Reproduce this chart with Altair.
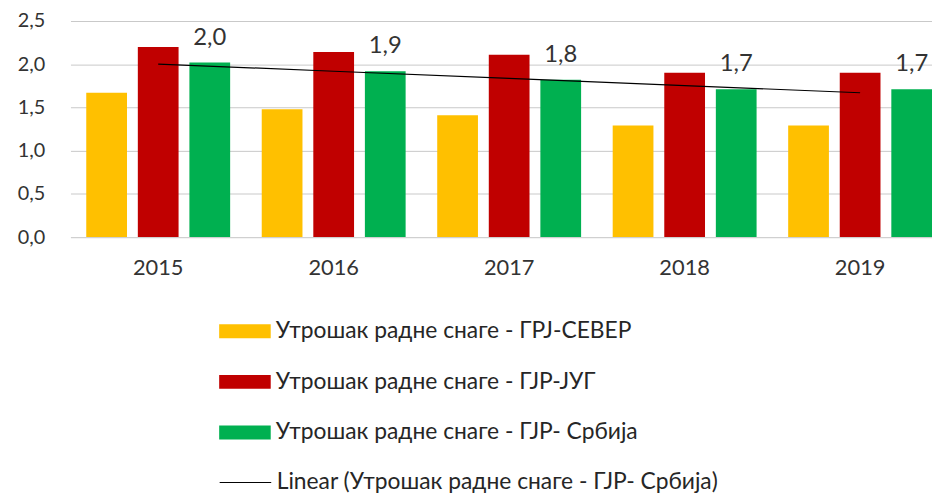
import altair as alt
import pandas as pd
import numpy as np

years = ["2015", "2016", "2017", "2018", "2019"]
sever = [1.67, 1.48, 1.41, 1.29, 1.29]
jug = [2.20, 2.14, 2.11, 1.90, 1.90]
srbija = [2.02, 1.92, 1.82, 1.71, 1.71]
series = [
    "Утрошак радне снаге - ГРЈ-СЕВЕР",
    "Утрошак радне снаге - ГЈР-ЈУГ",
    "Утрошак радне снаге - ГЈР- Србија",
]
trend_name = "Linear (Утрошак радне снаге - ГЈР- Србија)"
colors = ["#FFC000", "#C00000", "#00B050"]
y_ticks = [0, 0.5, 1.0, 1.5, 2.0, 2.5]

FONT = "Lato"
TXT = "#333333"

rows = []
for s, vals in zip(series, [sever, jug, srbija]):
    for yr, v in zip(years, vals):
        rows.append({"year": yr, "series": s, "value": v})
df = pd.DataFrame(rows)

lab = pd.DataFrame({"year": years, "series": series[2], "value": srbija})
lab["label"] = [f"{v:.1f}".replace(".", ",") for v in srbija]

idx = np.arange(len(years))
coef = np.polyfit(idx, np.array(srbija), 1)
trend = pd.DataFrame({"year": years, "trend": np.polyval(coef, idx), "name": trend_name})

xscale = alt.Scale(domain=years, paddingInner=0.18, paddingOuter=0.09)
xoff = alt.XOffset("series:N", sort=series,
                   scale=alt.Scale(domain=series, paddingInner=0.21, paddingOuter=0))
yscale = alt.Scale(domain=[0, 2.5], nice=False, zero=True)

xaxis = alt.Axis(title=None, ticks=False, domainColor="#d0d0d0", domainWidth=1,
                 labelFont=FONT, labelFontSize=22, labelColor=TXT, labelPadding=21,
                 labelAngle=0, grid=False)
yaxis = alt.Axis(title=None, values=y_ticks, ticks=False, domain=False,
                 labelExpr="replace(format(datum.value, '.1f'), '.', ',')",
                 labelFont=FONT, labelFontSize=20, labelColor=TXT, labelPadding=26,
                 grid=True, gridColor="#c8c8c8", gridWidth=1)

leg_common = dict(title=None, orient="none", legendX=150, padding=0,
                  labelFont=FONT, labelFontSize=23, labelColor="#262626",
                  labelLimit=700, labelOffset=5, symbolSize=2704)

bars = alt.Chart(df).mark_bar().encode(
    x=alt.X("year:N", scale=xscale, axis=xaxis),
    xOffset=xoff,
    y=alt.Y("value:Q", scale=yscale, axis=yaxis),
    color=alt.Color("series:N", sort=series,
                    scale=alt.Scale(domain=series, range=colors),
                    legend=alt.Legend(legendY=287, symbolType="M-1,-0.27H1V0.27H-1Z",
                                      symbolStrokeWidth=0, rowPadding=13, **leg_common)),
)

labels = alt.Chart(lab).mark_text(font=FONT, fontSize=24, color=TXT, dy=-18,
                                  baseline="alphabetic", align="center").encode(
    x=alt.X("year:N", scale=xscale),
    xOffset=xoff,
    y=alt.Y("value:Q", scale=yscale),
    text="label:N",
)

line = alt.Chart(trend).mark_line(strokeWidth=1.2).encode(
    x=alt.X("year:N", scale=xscale),
    y=alt.Y("trend:Q", scale=yscale),
    stroke=alt.Stroke("name:N", scale=alt.Scale(domain=[trend_name], range=["#000000"]),
                      legend=alt.Legend(legendY=439, symbolType="stroke",
                                        symbolStrokeWidth=1, **leg_common)),
)

chart = alt.layer(bars, line, labels).properties(
    width=885, height=218,
    autosize=alt.AutoSizeParams(type="none"),
    padding={"left": 63, "top": 11, "right": -16, "bottom": 258},
).configure_view(stroke=None).resolve_legend(color="independent", stroke="independent")

chart.save("out.html", embed_options={"renderer": "svg", "actions": False})
